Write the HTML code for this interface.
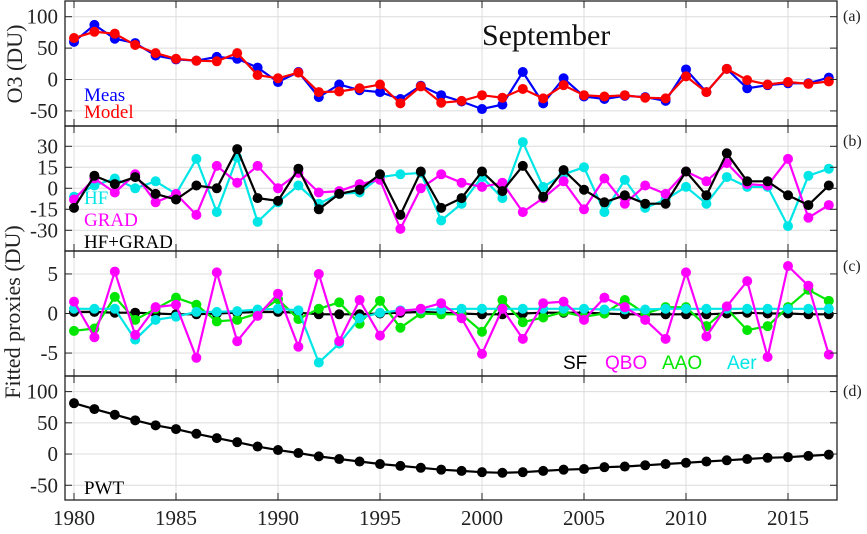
<!DOCTYPE html>
<html><head><meta charset="utf-8"><style>
body{margin:0;background:#fff}
svg text{font-family:"Liberation Serif",serif}
</style></head><body>
<svg id="chart" width="867" height="529" xmlns="http://www.w3.org/2000/svg"></svg>
<script>
const years=[];for(let y=1980;y<=2017;y++)years.push(y);
const xTicks=[1980,1985,1990,1995,2000,2005,2010,2015];
const meas=[60,87,65,58,38,32,30,36,33,19,-4,12,-28,-8,-17,-20,-31,-10,-25,-35,-47,-40,12,-38,2,-27,-31,-26,-28,-34,16,-20,17,-14,-9,-6,-6,3];
const model=[66,76,73,55,42,33,30,29,42,7,2,11,-20,-19,-14,-8,-38,-11,-37,-34,-25,-29,-15,-30,-9,-25,-27,-25,-29,-30,5,-20,17,-1,-8,-4,-7,-3];
const hf=[-6,2,7,0,5,-4,21,-17,22,-24,-10,2,-11,-4,-3,8,10,11,-23,-11,8,-7,33,1,10,15,-17,6,-14,-8,1,-11,8,1,1,-27,9,14];
const grad=[-8,7,-3,10,-10,-4,-19,16,4,16,0,11,-3,-2,3,6,-29,0,10,4,1,4,-17,-7,5,-15,7,-11,2,-4,12,5,18,3,2,21,-21,-12];
const hfgrad=[-14,9,3,8,-4,-8,2,0,28,-7,-9,14,-15,-4,-1,10,-19,12,-14,-7,12,-2,16,-6,13,-1,-10,-5,-11,-11,12,-5,25,5,5,-5,-12,2];
const sf=[0.2,0.2,0.1,0.1,0,-0.1,-0.1,0,0.1,0.2,0.2,0.1,-0.1,-0.1,-0.1,0,0.1,0.2,0.1,0,-0.1,-0.1,0,0.1,0.1,0.1,0,-0.1,-0.1,-0.1,-0.1,-0.1,0,0.1,0,0,-0.1,-0.1];
const qbo=[1.5,-3,5.3,-2.7,0.8,1.1,-5.6,5.2,-3.5,-0.3,2.5,-4.2,5,-3.5,1.7,-2.8,0.3,0.6,1.3,-0.6,-5.1,0.6,-3.2,1.3,1.5,-0.8,2,0.8,-0.8,-3.2,5.2,-2.9,0.9,4.1,-5.5,6,3.5,-5.2];
const aao=[-2.2,-1.9,2.1,-0.8,0.6,2,1.1,-1,-0.8,0,1.8,-0.7,0.6,1.4,-1.3,1.6,-1.8,0,-0.1,-0.1,-2.3,1.7,-1.1,-0.5,0.2,-0.4,0,1.7,0,0.8,0.8,-1.6,0.6,-2.1,-1.6,0.8,3,1.6];
const aer=[0.6,0.6,0.6,-3.3,-0.8,-0.4,0.2,0.2,0.3,0.5,0.6,0.4,-6.2,-3.8,-0.6,0.1,0.4,0.5,0.5,0.6,0.6,0.6,0.6,0.6,0.6,0.6,0.5,0.5,0.5,0.6,0.6,0.6,0.6,0.6,0.6,0.6,0.6,0.6];
const pwt=[81.5,72,63,54,46,40,32.5,25.5,19,12,6.4,1.6,-3.7,-8,-12,-16,-19,-22,-25,-27,-29,-30,-29,-27,-25,-24,-21,-20,-18,-16,-14,-12,-10,-8,-6,-5,-3,-1];

const svg=document.getElementById('chart');
const NS='http://www.w3.org/2000/svg';
function mk(tag,attrs,parent){const e=document.createElementNS(NS,tag);for(const k in attrs)e.setAttribute(k,attrs[k]);(parent||svg).appendChild(e);return e;}
const L=65,R=837;
const xs=y=>74+(y-1980)*20.4;

function panel(name,top,bot,ymin,ymax,yt,label,series){
  const g=mk('g',{});
  
  
  const ys=v=>bot-(v-ymin)/(ymax-ymin)*(bot-top);
  xTicks.forEach(t=>{mk('line',{x1:xs(t),x2:xs(t),y1:top,y2:bot,stroke:'#dcdcdc','stroke-width':1},g);});
  yt.forEach(t=>{mk('line',{x1:L,x2:R,y1:ys(t),y2:ys(t),stroke:'#dcdcdc','stroke-width':1},g);});
  series.forEach(s=>{
    const sg=mk('g',{},g);
    
    
    const pts=s.data.map((v,i)=>xs(years[i]).toFixed(1)+','+ys(v).toFixed(1)).join(' ');
    mk('polyline',{points:pts,fill:'none',stroke:s.c,'stroke-width':2.2},sg);
    s.data.forEach((v,i)=>{const c=mk('circle',{cx:xs(years[i]),cy:ys(v),r:s.r||5,fill:s.c},sg);
      
      });
  });
  mk('rect',{x:L,y:top,width:R-L,height:bot-top,fill:'none',stroke:'#222','stroke-width':1.3},g);
  xTicks.forEach(t=>{mk('line',{x1:xs(t),x2:xs(t),y1:top,y2:top+7,stroke:'#222'},g);mk('line',{x1:xs(t),x2:xs(t),y1:bot,y2:bot-7,stroke:'#222'},g);});
  yt.forEach(t=>{mk('line',{x1:L,x2:L+7,y1:ys(t),y2:ys(t),stroke:'#222'},g);mk('line',{x1:R,x2:R-7,y1:ys(t),y2:ys(t),stroke:'#222'},g);
    const tx=mk('text',{x:58,y:ys(t)+7,'text-anchor':'end','font-size':21,fill:'#222'},g);tx.textContent=t;
    
    });
  const pl=mk('text',{x:843,y:top+20,'font-size':16,fill:'#222'},g);pl.textContent=label;
  
  
}
panel('panel-a',1,126,-74,125,[-50,0,50,100],'(a)',[{name:'meas-series',c:'#0000ff',data:meas},{name:'model-series',c:'#ff0000',data:model}]);
panel('panel-b',126,251,-44.8,44.5,[-30,-15,0,15,30],'(b)',[{name:'hf-series',c:'#00e6e6',data:hf},{name:'grad-series',c:'#ff00ff',data:grad},{name:'hfgrad-series',c:'#000',data:hfgrad}]);
panel('panel-c',251,376,-7.9,7.9,[-5,0,5],'(c)',[{name:'sf-series',c:'#000',data:sf},{name:'aao-series',c:'#00e600',data:aao},{name:'aer-series',c:'#00e6e6',data:aer},{name:'qbo-series',c:'#ff00ff',data:qbo}]);
panel('panel-d',376,500,-73.6,125,[-50,0,50,100],'(d)',[{name:'pwt-series',c:'#000',data:pwt}]);
xTicks.forEach(t=>{const tx=mk('text',{x:xs(t),y:525,'text-anchor':'middle','font-size':21,fill:'#222'});tx.textContent=t;
  
  });
</script>
<svg width="867" height="529" style="position:absolute;left:0;top:0" xmlns="http://www.w3.org/2000/svg">
<text transform="translate(22,64) rotate(-90)" text-anchor="middle" font-size="22" fill="#222">O3 (DU)</text>
<text transform="translate(20,312) rotate(-90)" text-anchor="middle" font-size="22" fill="#222">Fitted proxies (DU)</text>
<text x="482" y="45" font-size="30" fill="#111">September</text>
<text x="84" y="101" font-size="19" fill="#0000ff">Meas</text>
<text x="84" y="118" font-size="19" fill="#ff0000">Model</text>
<text x="84" y="204" font-size="19" fill="#00e6e6">HF</text>
<text x="84" y="226" font-size="19" fill="#ff00ff">GRAD</text>
<text x="84" y="248" font-size="19" fill="#000">HF+GRAD</text>
<text x="563" y="369" font-size="19" fill="#000" style="font-family:'Liberation Sans',sans-serif">SF</text>
<text x="605" y="369" font-size="19" fill="#ff00ff" style="font-family:'Liberation Sans',sans-serif">QBO</text>
<text x="662" y="369" font-size="19" fill="#00e600" style="font-family:'Liberation Sans',sans-serif">AAO</text>
<text x="727" y="369" font-size="19" fill="#00e6e6" style="font-family:'Liberation Sans',sans-serif">Aer</text>
<text x="84" y="494" font-size="19" fill="#000">PWT</text>
</svg>
</body></html>
